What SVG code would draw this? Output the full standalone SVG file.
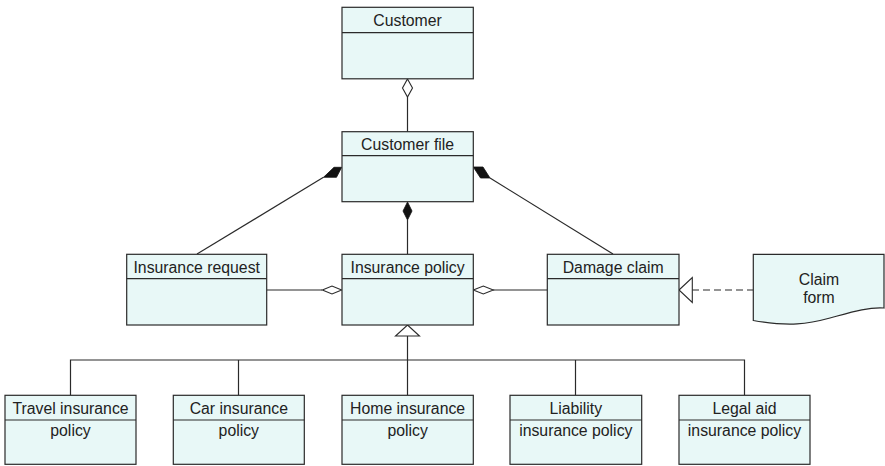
<svg xmlns="http://www.w3.org/2000/svg" width="885" height="466" viewBox="0 0 885 466">
<style>
.box{fill:#e8f8f7;stroke:#2a2a2a;stroke-width:1.2}
.div{stroke:#2a2a2a;stroke-width:1.2}
.t{font-family:"Liberation Sans",Arial,sans-serif;font-size:15.8px;fill:#222;text-anchor:middle}
.ln{fill:none;stroke:#2a2a2a;stroke-width:1.2}
.hd{fill:#fff;stroke:#2a2a2a;stroke-width:1.1}
.fd{fill:#111;stroke:#111;stroke-width:0.8}
</style>
<rect width="885" height="466" fill="#fff"/>
<g id="connectors">
  <!-- Customer - Customer file -->
  <line class="ln" x1="407.5" y1="97" x2="407.5" y2="132"/>
  <polygon class="hd" points="407.5,79 412.5,88 407.5,97 402.5,88"/>
  <!-- Customer file - Insurance policy -->
  <line class="ln" x1="407.5" y1="220" x2="407.5" y2="254"/>
  <polygon class="fd" points="407.5,202 412,211 407.5,220 403,211"/>
  <!-- Customer file - Insurance request -->
  <line class="ln" x1="323.5" y1="177.3" x2="197" y2="254"/>
  <polygon class="fd" points="334,167.3 341.7,167.3 336.5,177.3 323.5,177.3"/>
  <!-- Customer file - Damage claim -->
  <line class="ln" x1="490" y1="178" x2="613" y2="254"/>
  <polygon class="fd" points="473.3,167 483,167 490,178 480.5,178"/>
  <!-- Insurance request - Insurance policy -->
  <line class="ln" x1="267" y1="290" x2="322" y2="290"/>
  <polygon class="hd" points="341.7,290 332,294 322.3,290 332,286"/>
  <!-- Damage claim - Insurance policy -->
  <line class="ln" x1="493" y1="290" x2="547" y2="290"/>
  <polygon class="hd" points="473.3,290 483.3,286 493.3,290 483.3,294"/>
  <!-- Claim form realizes Damage claim -->
  <line class="ln" x1="692" y1="290" x2="753" y2="290" stroke-dasharray="7,4"/>
  <polygon class="hd" points="679,290 692.3,277.5 692.3,302.5"/>
  <!-- Generalization -->
  <line class="ln" x1="407.5" y1="336" x2="407.5" y2="395"/>
  <polyline class="ln" points="70.5,395 70.5,360 744.5,360 744.5,395"/>
  <line class="ln" x1="238.5" y1="360" x2="238.5" y2="395"/>
  <line class="ln" x1="575.5" y1="360" x2="575.5" y2="395"/>
  <polygon class="hd" points="407.5,325 419.5,336 395.5,336"/>
</g>
<g id="customer">
  <rect class="box" x="342" y="7.3" width="131.3" height="71.5"/>
  <line class="div" x1="342" y1="32.7" x2="473.3" y2="32.7"/>
  <text class="t" x="407.6" y="26.2">Customer</text>
</g>
<g id="customer-file">
  <rect class="box" x="342" y="131.7" width="131.3" height="70"/>
  <line class="div" x1="342" y1="155.7" x2="473.3" y2="155.7"/>
  <text class="t" x="407.6" y="150">Customer file</text>
</g>
<g id="insurance-request">
  <rect class="box" x="126.7" y="254.3" width="140" height="70.7"/>
  <line class="div" x1="126.7" y1="278.7" x2="266.7" y2="278.7"/>
  <text class="t" x="196.7" y="273.3">Insurance request</text>
</g>
<g id="insurance-policy">
  <rect class="box" x="342" y="254.3" width="131.3" height="70.7"/>
  <line class="div" x1="342" y1="278.7" x2="473.3" y2="278.7"/>
  <text class="t" x="407.6" y="273.3">Insurance policy</text>
</g>
<g id="damage-claim">
  <rect class="box" x="547.3" y="254.3" width="131.7" height="70.7"/>
  <line class="div" x1="547.3" y1="278.7" x2="679" y2="278.7"/>
  <text class="t" x="613.2" y="273.3">Damage claim</text>
</g>
<g id="claim-form">
  <path class="box" d="M753.3,254.3 H884 V308 C868,307 852,312 830,318 C808,324 790,327 753.3,320.5 Z"/>
  <text class="t" x="819" y="285">Claim</text>
  <text class="t" x="819" y="303">form</text>
</g>
<g id="travel-insurance-policy">
  <rect class="box" x="5" y="395.3" width="131" height="69"/>
  <line class="div" x1="5" y1="420" x2="136" y2="420"/>
  <text class="t" x="70.5" y="414">Travel insurance</text>
  <text class="t" x="70.5" y="436">policy</text>
</g>
<g id="car-insurance-policy">
  <rect class="box" x="173.3" y="395.3" width="131" height="69"/>
  <line class="div" x1="173.3" y1="420" x2="304.3" y2="420"/>
  <text class="t" x="238.8" y="414">Car insurance</text>
  <text class="t" x="238.8" y="436">policy</text>
</g>
<g id="home-insurance-policy">
  <rect class="box" x="342" y="395.3" width="131.3" height="69"/>
  <line class="div" x1="342" y1="420" x2="473.3" y2="420"/>
  <text class="t" x="407.6" y="414">Home insurance</text>
  <text class="t" x="407.6" y="436">policy</text>
</g>
<g id="liability-insurance-policy">
  <rect class="box" x="510" y="395.3" width="131.7" height="69"/>
  <line class="div" x1="510" y1="420" x2="641.7" y2="420"/>
  <text class="t" x="575.8" y="414">Liability</text>
  <text class="t" x="575.8" y="436">insurance policy</text>
</g>
<g id="legal-aid-insurance-policy">
  <rect class="box" x="679" y="395.3" width="131" height="69"/>
  <line class="div" x1="679" y1="420" x2="810" y2="420"/>
  <text class="t" x="744.5" y="414">Legal aid</text>
  <text class="t" x="744.5" y="436">insurance policy</text>
</g>
</svg>
